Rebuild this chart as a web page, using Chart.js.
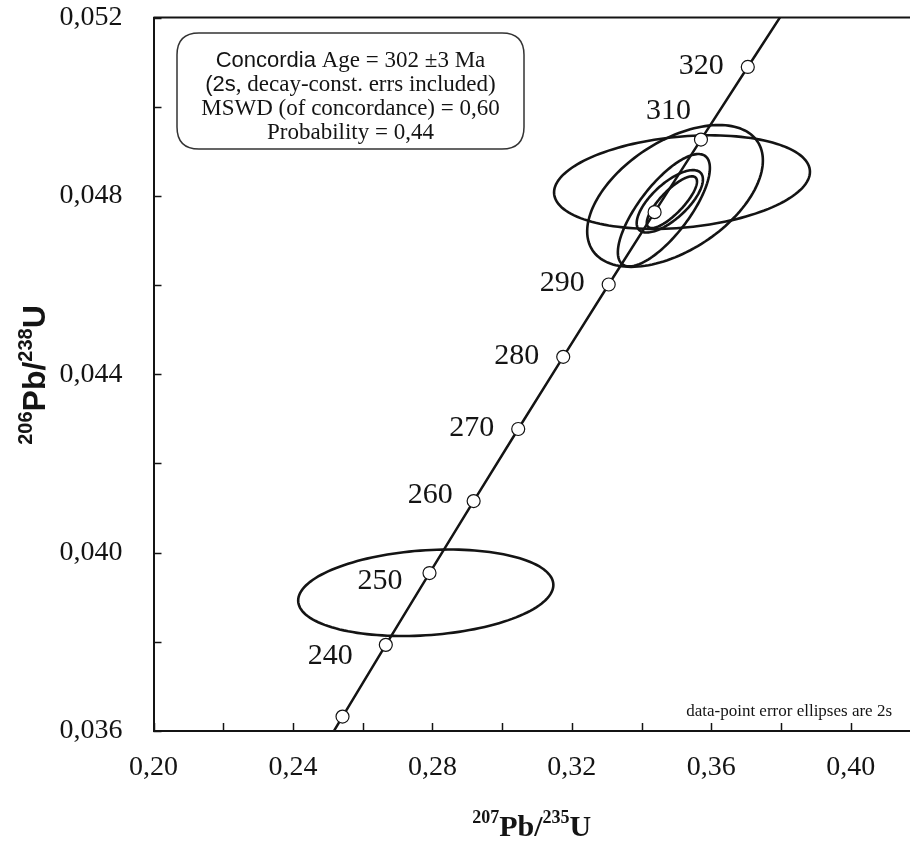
<!DOCTYPE html>
<html>
<head>
<meta charset="utf-8">
<script src="https://cdn.jsdelivr.net/npm/chart.js@4.4.1/dist/chart.umd.min.js"></script>
<style>
  html, body { margin: 0; padding: 0; background: #fff; }
  canvas { display: block; }
</style>
</head>
<body>
<canvas id="concordia" width="910" height="841"></canvas>
<script>
// concordia curve, age markers in Ma
const concordiaAges = [220, 230, 240, 250, 260, 270, 280, 290, 300, 310, 320, 330];
const concordiaX = [0.24193, 0.25422, 0.26664, 0.27917, 0.29183, 0.30462, 0.31753, 0.33057, 0.34374, 0.35704, 0.37047, 0.38403];
const concordiaY = [0.034717, 0.036323, 0.037932, 0.039543, 0.041157, 0.042773, 0.044392, 0.046014, 0.047637, 0.049264, 0.050893, 0.052525];
const labelledAges = [240, 250, 260, 270, 280, 290, 310, 320];

// data-point error ellipses (2s): centre, half widths, correlation
const ellipseX   = [0.2781, 0.3516, 0.3496, 0.3464, 0.3481, 0.3487];
const ellipseY   = [0.03910, 0.04831, 0.04800, 0.04768, 0.04788, 0.04786];
const ellipseSX  = [0.0366, 0.0367, 0.0252, 0.0132, 0.0095, 0.0072];
const ellipseSY  = [0.00097, 0.00105, 0.00159, 0.00126, 0.00070, 0.00058];
const ellipseRho = [0.18, 0.22, 0.50, 0.75, 0.70, 0.80];

// axis tick labels
const xTickLabels = ['0,20', '0,24', '0,28', '0,32', '0,36', '0,40'];
const yTickLabels = ['0,036', '0,040', '0,044', '0,048', '0,052'];

const SERIF = '"Liberation Serif", "Times New Roman", serif';
const SANS = '"Liberation Sans", Arial, sans-serif';
const INK = '#141414';

function tickLabel(list, v) {
    const hit = list.find(l => Math.abs(parseFloat(l.replace(',', '.')) - v) < 1e-7);
    return hit || '';
}

// draw a run of text pieces with different fonts / vertical shift
function richWidth(ctx, parts) {
    let w = 0;
    parts.forEach(p => { ctx.font = p.font; w += ctx.measureText(p.text).width; });
    return w;
}
function drawRich(ctx, parts, x, y) {
    let cx = x;
    parts.forEach(p => {
        ctx.font = p.font;
        ctx.fillText(p.text, cx, y + (p.dy || 0));
        cx += ctx.measureText(p.text).width;
    });
}

const ellipsePlugin = {
    id: 'ellipses',
    beforeDatasetsDraw(chart) {
        const { ctx, chartArea: a, scales: { x, y } } = chart;
        ctx.save();
        ctx.beginPath();
        ctx.rect(a.left, a.top, a.right - a.left, a.bottom - a.top);
        ctx.clip();
        ctx.strokeStyle = INK;
        ctx.lineWidth = 2.6;
        ellipseX.forEach((cx, i) => {
            const r = ellipseRho[i], k = Math.sqrt(1 - r * r);
            ctx.beginPath();
            for (let s = 0; s <= 144; s++) {
                const t = s / 144 * Math.PI * 2;
                const vx = cx + ellipseSX[i] * Math.cos(t);
                const vy = ellipseY[i] + ellipseSY[i] * (r * Math.cos(t) + k * Math.sin(t));
                const px = x.getPixelForValue(vx), py = y.getPixelForValue(vy);
                if (s === 0) ctx.moveTo(px, py); else ctx.lineTo(px, py);
            }
            ctx.closePath();
            ctx.stroke();
        });
        ctx.restore();
    }
};

const decorPlugin = {
    id: 'decor',
    afterDatasetsDraw(chart) {
        const { ctx, scales: { x, y } } = chart;
        // age labels next to the markers
        const nudge = { 240: [-33, 11], 250: [-27, 8], 260: [-21, -6], 310: [-10, -28] };
        ctx.save();
        ctx.fillStyle = INK;
        ctx.font = '30px ' + SERIF;
        ctx.textAlign = 'right';
        ctx.textBaseline = 'middle';
        labelledAges.forEach(age => {
            const i = concordiaAges.indexOf(age);
            const [dx, dy] = nudge[age] || [-24, -1];
            ctx.fillText(String(age), x.getPixelForValue(concordiaX[i]) + dx, y.getPixelForValue(concordiaY[i]) + dy);
        });
        ctx.restore();
    },
    afterDraw(chart) {
        const { ctx, chartArea: a, scales: { x, y } } = chart;
        ctx.save();
        ctx.strokeStyle = INK;
        ctx.lineWidth = 2;
        // top frame line
        ctx.beginPath();
        ctx.moveTo(a.left, a.top);
        ctx.lineTo(a.right, a.top);
        ctx.stroke();
        // inward ticks
        ctx.lineWidth = 1.5;
        x.ticks.forEach(t => {
            const px = Math.round(x.getPixelForValue(t.value)) + 0.5;
            ctx.beginPath(); ctx.moveTo(px, a.bottom); ctx.lineTo(px, a.bottom - 8); ctx.stroke();
        });
        y.ticks.forEach(t => {
            const py = Math.round(y.getPixelForValue(t.value)) + 0.5;
            ctx.beginPath(); ctx.moveTo(a.left, py); ctx.lineTo(a.left + 8, py); ctx.stroke();
        });

        ctx.fillStyle = INK;
        ctx.textBaseline = 'alphabetic';

        // x axis title
        const xt = [
            { text: '207', font: 'bold 18px ' + SERIF, dy: -13 },
            { text: 'Pb/', font: 'bold 30px ' + SERIF },
            { text: '235', font: 'bold 18px ' + SERIF, dy: -13 },
            { text: 'U', font: 'bold 30px ' + SERIF }
        ];
        const xc = (a.left + a.right) / 2;
        drawRich(ctx, xt, xc - richWidth(ctx, xt) / 2, 836);

        // y axis title, rotated
        const yt = [
            { text: '206', font: 'bold 20px ' + SANS, dy: -13 },
            { text: 'Pb/', font: 'bold 32px ' + SANS },
            { text: '238', font: 'bold 20px ' + SANS, dy: -13 },
            { text: 'U', font: 'bold 32px ' + SANS }
        ];
        ctx.save();
        ctx.translate(45, 375);
        ctx.rotate(-Math.PI / 2);
        drawRich(ctx, yt, -richWidth(ctx, yt) / 2, 0);
        ctx.restore();

        // result box
        const bx = 177, by = 33, bw = 347, bh = 116, r = 22;
        ctx.beginPath();
        ctx.moveTo(bx + r, by);
        ctx.lineTo(bx + bw - r, by);
        ctx.quadraticCurveTo(bx + bw, by, bx + bw, by + r);
        ctx.lineTo(bx + bw, by + bh - r);
        ctx.quadraticCurveTo(bx + bw, by + bh, bx + bw - r, by + bh);
        ctx.lineTo(bx + r, by + bh);
        ctx.quadraticCurveTo(bx, by + bh, bx, by + bh - r);
        ctx.lineTo(bx, by + r);
        ctx.quadraticCurveTo(bx, by, bx + r, by);
        ctx.closePath();
        ctx.fillStyle = '#fff';
        ctx.fill();
        ctx.lineWidth = 1.5;
        ctx.strokeStyle = '#333';
        ctx.stroke();

        ctx.fillStyle = INK;
        const boxLines = [
            [{ text: 'Concordia', font: '22px ' + SANS }, { text: ' Age = 302 \u00B13 Ma', font: '23px ' + SERIF }],
            [{ text: '(2s', font: '22px ' + SANS }, { text: ', decay-const. errs included)', font: '23px ' + SERIF }],
            [{ text: 'MSWD (of concordance) = 0,60', font: '23px ' + SERIF }],
            [{ text: 'Probability = 0,44', font: '23px ' + SERIF }]
        ];
        const bc = bx + bw / 2;
        boxLines.forEach((ln, i) => drawRich(ctx, ln, bc - richWidth(ctx, ln) / 2, 67 + i * 24));

        // footnote
        ctx.font = '17px ' + SERIF;
        ctx.textAlign = 'right';
        ctx.fillText('data-point error ellipses are 2s', 892, 716);
        ctx.restore();
    }
};

new Chart(document.getElementById('concordia'), {
    type: 'scatter',
    data: {
        datasets: [{
            data: concordiaAges.map((age, i) => ({ x: concordiaX[i], y: concordiaY[i] })),
            showLine: true,
            borderColor: INK,
            borderWidth: 2.5,
            pointRadius: 6.5,
            pointBackgroundColor: '#fff',
            pointBorderColor: INK,
            pointBorderWidth: 1.2,
            clip: 0
        }]
    },
    options: {
        responsive: false,
        animation: false,
        devicePixelRatio: 1,
        layout: { autoPadding: false, padding: { top: 17.6, right: 0, left: 0, bottom: 0 } },
        plugins: { legend: { display: false }, tooltip: { enabled: false } },
        scales: {
            x: {
                type: 'linear',
                min: 0.20,
                max: 0.417,
                afterFit: s => { s.height = 110; s.paddingLeft = 0; s.paddingRight = 0; },
                ticks: {
                    stepSize: 0.02,
                    includeBounds: false,
                    autoSkip: false,
                    maxRotation: 0,
                    padding: 20,
                    color: INK,
                    font: { family: SERIF, size: 28 },
                    callback: v => tickLabel(xTickLabels, v)
                },
                grid: { drawOnChartArea: false, drawTicks: false },
                border: { display: true, color: INK, width: 2 }
            },
            y: {
                type: 'linear',
                min: 0.036,
                max: 0.052,
                afterFit: s => { s.width = 153.5; s.paddingTop = 0; s.paddingBottom = 0; },
                ticks: {
                    stepSize: 0.002,
                    includeBounds: false,
                    autoSkip: false,
                    padding: 31,
                    color: INK,
                    font: { family: SERIF, size: 28 },
                    callback: v => tickLabel(yTickLabels, v)
                },
                grid: { drawOnChartArea: false, drawTicks: false },
                border: { display: true, color: INK, width: 2 }
            }
        }
    },
    plugins: [ellipsePlugin, decorPlugin]
});
</script>
</body>
</html>
